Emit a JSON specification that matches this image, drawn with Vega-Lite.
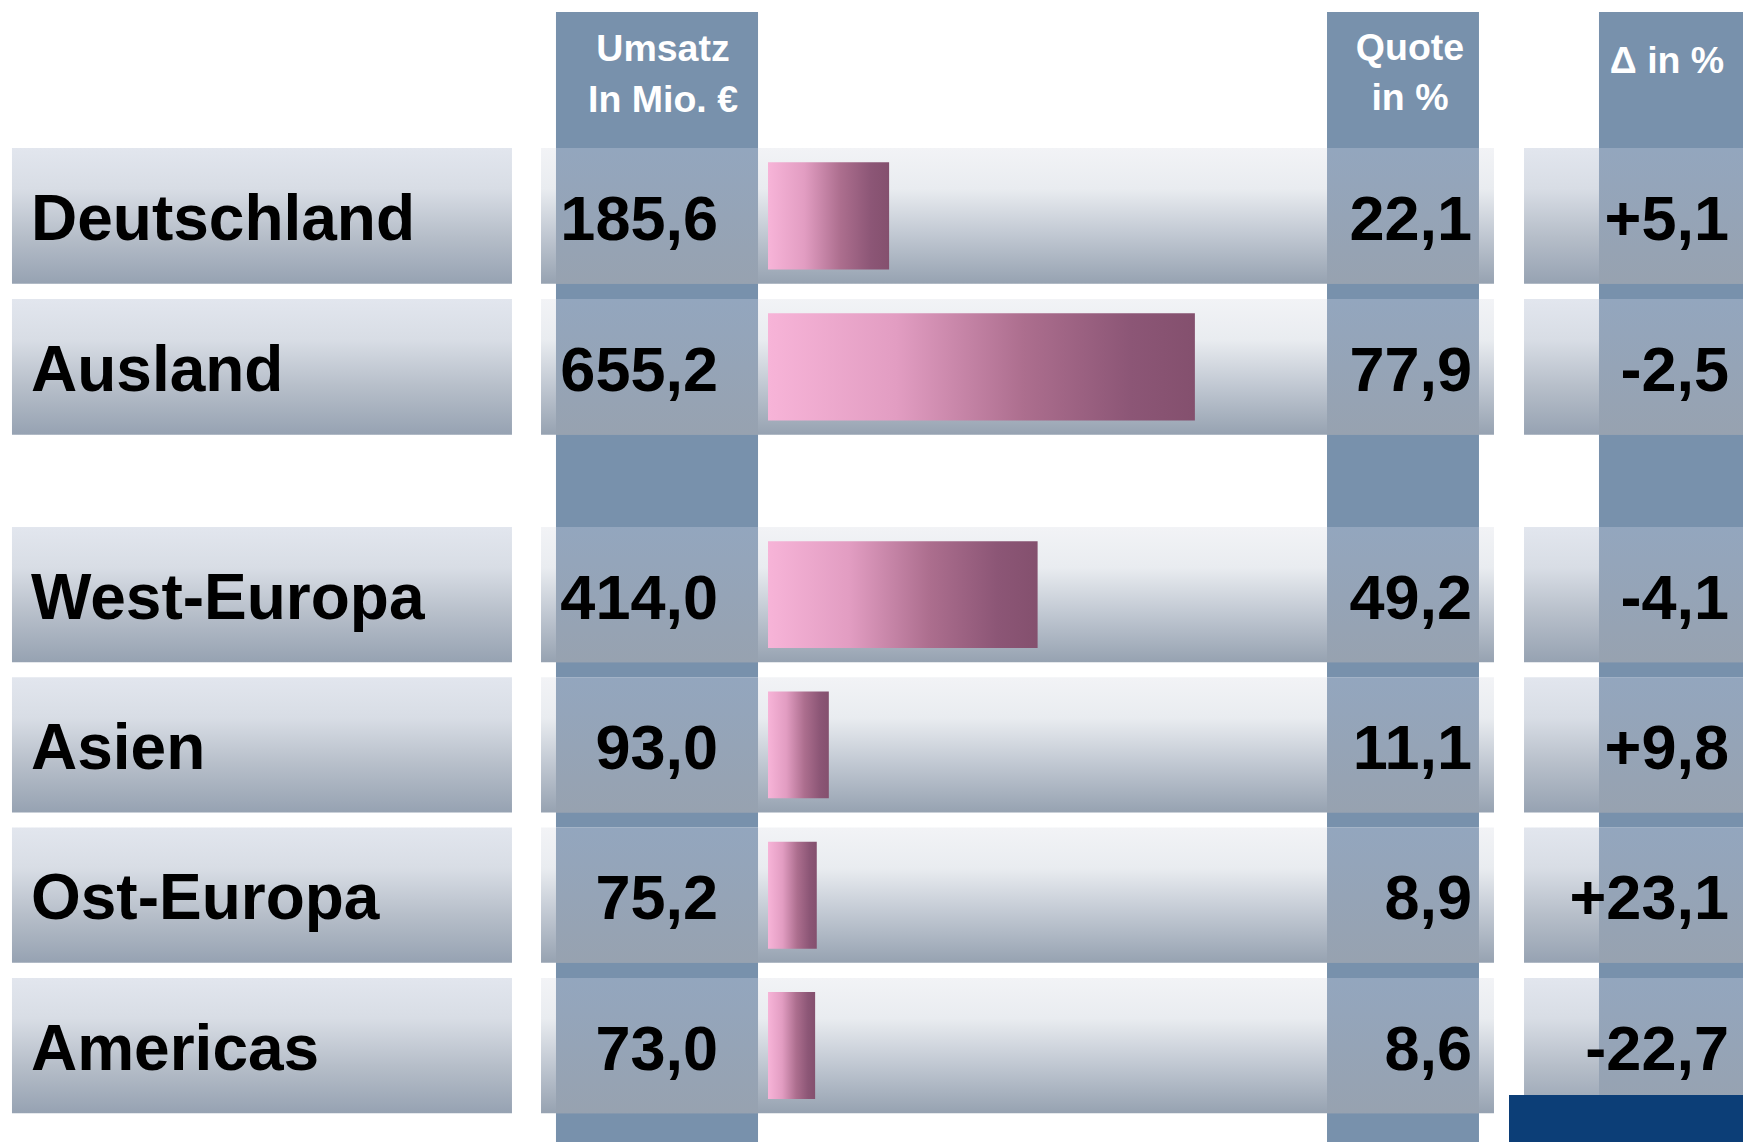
{
  "$schema": "https://vega.github.io/schema/vega-lite/v6.json",
  "background": "white",
  "padding": {"top": 12, "bottom": 0, "left": 0, "right": 0},
  "spacing": 0,
  "config": {
    "view": {"stroke": null},
    "axis": {"disable": true},
    "locale": {"number": {"decimal": ",", "thousands": ".", "grouping": [3], "currency": ["", " €"], "minus": "-"}}
  },
  "datasets": {
    "gesamt": [
      {"Region": "Deutschland", "Umsatz": 185.6, "Quote": 22.1, "Delta": 5.1},
      {"Region": "Ausland", "Umsatz": 655.2, "Quote": 77.9, "Delta": -2.5}
    ],
    "regionen": [
      {"Region": "West-Europa", "Umsatz": 414.0, "Quote": 49.2, "Delta": -4.1},
      {"Region": "Asien", "Umsatz": 93.0, "Quote": 11.1, "Delta": 9.8},
      {"Region": "Ost-Europa", "Umsatz": 75.2, "Quote": 8.9, "Delta": 23.1},
      {"Region": "Americas", "Umsatz": 73.0, "Quote": 8.6, "Delta": -22.7}
    ]
  },
  "vconcat": [
    {
      "width": 1743,
      "height": 515,
      "data": {"name": "gesamt"},
      "layer": [
        {"data": {"values": [{}]}, "mark": {"type": "rect", "color": "#7891AC"},
         "encoding": {"x": {"datum": -38.69, "type": "quantitative", "scale": {"domain": [-140.146, 177.92], "nice": false, "zero": false}}, "x2": {"datum": -1.82}}},
        {"data": {"values": [{}]}, "mark": {"type": "rect", "color": "#7891AC"},
         "encoding": {"x": {"datum": 102.01, "type": "quantitative"}, "x2": {"datum": 129.74}}},
        {"data": {"values": [{}]}, "mark": {"type": "rect", "color": "#7891AC"},
         "encoding": {"x": {"datum": 151.64, "type": "quantitative"}, "x2": {"datum": 177.92}}},
        {"mark": {"type": "rect", "color": {"gradient": "linear", "x1": 0, "y1": 0, "x2": 0, "y2": 1, "stops": [{"offset": 0, "color": "#E2E6EE"}, {"offset": 0.3, "color": "#D8DDE5"}, {"offset": 0.65, "color": "#B6BEC9"}, {"offset": 1, "color": "#96A2B2"}]}},
         "encoding": {"y": {"field": "Region", "type": "nominal", "sort": null, "scale": {"domain": ["Deutschland", "Ausland"], "paddingInner": 0.1, "paddingOuter": 0.755, "align": 0.596}}, "x": {"datum": -137.96, "type": "quantitative"}, "x2": {"datum": -46.72}}},
        {"mark": {"type": "rect", "color": {"gradient": "linear", "x1": 0, "y1": 0, "x2": 0, "y2": 1, "stops": [{"offset": 0, "color": "#F2F3F6"}, {"offset": 0.3, "color": "#E9ECF0"}, {"offset": 0.62, "color": "#C3CAD4"}, {"offset": 1, "color": "#96A2B1"}]}},
         "encoding": {"y": {"field": "Region", "type": "nominal"}, "x": {"datum": -41.42, "type": "quantitative"}, "x2": {"datum": 132.48}}},
        {"mark": {"type": "rect", "color": {"gradient": "linear", "x1": 0, "y1": 0, "x2": 0, "y2": 1, "stops": [{"offset": 0, "color": "#E2E6EE"}, {"offset": 0.3, "color": "#D8DDE5"}, {"offset": 0.65, "color": "#B6BEC9"}, {"offset": 1, "color": "#96A2B2"}]}},
         "encoding": {"y": {"field": "Region", "type": "nominal"}, "x": {"datum": 137.96, "type": "quantitative"}, "x2": {"datum": 177.92}}},
        {"mark": {"type": "rect", "color": {"gradient": "linear", "x1": 0, "y1": 0, "x2": 0, "y2": 1, "stops": [{"offset": 0, "color": "#93A6BE"}, {"offset": 1, "color": "#97A2B0"}]}},
         "encoding": {"y": {"field": "Region", "type": "nominal"}, "x": {"datum": -38.69, "type": "quantitative"}, "x2": {"datum": -1.82}}},
        {"mark": {"type": "rect", "color": {"gradient": "linear", "x1": 0, "y1": 0, "x2": 0, "y2": 1, "stops": [{"offset": 0, "color": "#93A6BE"}, {"offset": 1, "color": "#97A2B0"}]}},
         "encoding": {"y": {"field": "Region", "type": "nominal"}, "x": {"datum": 102.01, "type": "quantitative"}, "x2": {"datum": 129.74}}},
        {"mark": {"type": "rect", "color": {"gradient": "linear", "x1": 0, "y1": 0, "x2": 0, "y2": 1, "stops": [{"offset": 0, "color": "#93A6BE"}, {"offset": 1, "color": "#97A2B0"}]}},
         "encoding": {"y": {"field": "Region", "type": "nominal"}, "x": {"datum": 151.64, "type": "quantitative"}, "x2": {"datum": 177.92}}},
        {"mark": {"type": "bar", "height": {"band": 0.79}, "color": {"gradient": "linear", "x1": 0, "y1": 0, "x2": 1, "y2": 0, "stops": [{"offset": 0, "color": "#F7B4D8"}, {"offset": 0.3, "color": "#E29DC2"}, {"offset": 0.6, "color": "#AC6E8E"}, {"offset": 0.85, "color": "#8C5676"}, {"offset": 1, "color": "#84506E"}]}},
         "encoding": {"y": {"field": "Region", "type": "nominal"}, "x": {"field": "Quote", "type": "quantitative"}, "x2": {"datum": 0}}},
        {"mark": {"type": "text", "align": "left", "baseline": "alphabetic", "dy": 24, "fontSize": 64, "fontWeight": "bold", "font": "Liberation Sans", "color": "#000000"},
         "encoding": {"y": {"field": "Region", "type": "nominal"}, "x": {"datum": -134.49, "type": "quantitative"}, "text": {"field": "Region"}}},
        {"mark": {"type": "text", "align": "right", "baseline": "alphabetic", "dy": 24, "fontSize": 63, "fontWeight": "bold", "font": "Liberation Sans", "color": "#000000"},
         "encoding": {"y": {"field": "Region", "type": "nominal"}, "x": {"datum": -9.12, "type": "quantitative"}, "text": {"field": "Umsatz", "type": "quantitative", "format": ".1f"}}},
        {"mark": {"type": "text", "align": "right", "baseline": "alphabetic", "dy": 24, "fontSize": 63, "fontWeight": "bold", "font": "Liberation Sans", "color": "#000000"},
         "encoding": {"y": {"field": "Region", "type": "nominal"}, "x": {"datum": 128.47, "type": "quantitative"}, "text": {"field": "Quote", "type": "quantitative", "format": ".1f"}}},
        {"mark": {"type": "text", "align": "right", "baseline": "alphabetic", "dy": 24, "fontSize": 63, "fontWeight": "bold", "font": "Liberation Sans", "color": "#000000"},
         "encoding": {"y": {"field": "Region", "type": "nominal"}, "x": {"datum": 175.36, "type": "quantitative"}, "text": {"field": "Delta", "type": "quantitative", "format": "+.1f"}}},
        {"data": {"values": [{}]}, "mark": {"type": "text", "text": ["Umsatz", "In Mio. €"], "lineHeight": 51, "align": "center", "baseline": "alphabetic", "fontSize": 37.5, "fontWeight": "bold", "font": "Liberation Sans", "color": "#FFFFFF"},
         "encoding": {"x": {"datum": -19.16, "type": "quantitative"}, "y": {"datum": "Deutschland", "type": "nominal", "bandPosition": -0.6394}}},
        {"data": {"values": [{}]}, "mark": {"type": "text", "text": ["Quote", "in %"], "lineHeight": 49.5, "align": "center", "baseline": "alphabetic", "fontSize": 37.5, "fontWeight": "bold", "font": "Liberation Sans", "color": "#FFFFFF"},
         "encoding": {"x": {"datum": 117.15, "type": "quantitative"}, "y": {"datum": "Deutschland", "type": "nominal", "bandPosition": -0.6467}}},
        {"data": {"values": [{}]}, "mark": {"type": "text", "text": "Δ in %", "align": "center", "baseline": "alphabetic", "fontSize": 37.5, "fontWeight": "bold", "font": "Liberation Sans", "color": "#FFFFFF"},
         "encoding": {"x": {"datum": 164.05, "type": "quantitative"}, "y": {"datum": "Deutschland", "type": "nominal", "bandPosition": -0.551}}}
      ]
    },
    {
      "width": 1743,
      "height": 615,
      "data": {"name": "regionen"},
      "layer": [
        {"data": {"values": [{}]}, "mark": {"type": "rect", "color": "#7891AC"},
         "encoding": {"x": {"datum": -38.69, "type": "quantitative", "scale": {"domain": [-140.146, 177.92], "nice": false, "zero": false}}, "x2": {"datum": -1.82}}},
        {"data": {"values": [{}]}, "mark": {"type": "rect", "color": "#7891AC"},
         "encoding": {"x": {"datum": 102.01, "type": "quantitative"}, "x2": {"datum": 129.74}}},
        {"data": {"values": [{}]}, "mark": {"type": "rect", "color": "#7891AC"},
         "encoding": {"x": {"datum": 151.64, "type": "quantitative"}, "x2": {"datum": 177.92}}},
        {"mark": {"type": "rect", "color": {"gradient": "linear", "x1": 0, "y1": 0, "x2": 0, "y2": 1, "stops": [{"offset": 0, "color": "#E2E6EE"}, {"offset": 0.3, "color": "#D8DDE5"}, {"offset": 0.65, "color": "#B6BEC9"}, {"offset": 1, "color": "#96A2B2"}]}},
         "encoding": {"y": {"field": "Region", "type": "nominal", "sort": null, "scale": {"domain": ["West-Europa", "Asien", "Ost-Europa", "Americas"], "paddingInner": 0.1, "paddingOuter": 0.096, "align": 0}}, "x": {"datum": -137.96, "type": "quantitative"}, "x2": {"datum": -46.72}}},
        {"mark": {"type": "rect", "color": {"gradient": "linear", "x1": 0, "y1": 0, "x2": 0, "y2": 1, "stops": [{"offset": 0, "color": "#F2F3F6"}, {"offset": 0.3, "color": "#E9ECF0"}, {"offset": 0.62, "color": "#C3CAD4"}, {"offset": 1, "color": "#96A2B1"}]}},
         "encoding": {"y": {"field": "Region", "type": "nominal"}, "x": {"datum": -41.42, "type": "quantitative"}, "x2": {"datum": 132.48}}},
        {"mark": {"type": "rect", "color": {"gradient": "linear", "x1": 0, "y1": 0, "x2": 0, "y2": 1, "stops": [{"offset": 0, "color": "#E2E6EE"}, {"offset": 0.3, "color": "#D8DDE5"}, {"offset": 0.65, "color": "#B6BEC9"}, {"offset": 1, "color": "#96A2B2"}]}},
         "encoding": {"y": {"field": "Region", "type": "nominal"}, "x": {"datum": 137.96, "type": "quantitative"}, "x2": {"datum": 177.92}}},
        {"mark": {"type": "rect", "color": {"gradient": "linear", "x1": 0, "y1": 0, "x2": 0, "y2": 1, "stops": [{"offset": 0, "color": "#93A6BE"}, {"offset": 1, "color": "#97A2B0"}]}},
         "encoding": {"y": {"field": "Region", "type": "nominal"}, "x": {"datum": -38.69, "type": "quantitative"}, "x2": {"datum": -1.82}}},
        {"mark": {"type": "rect", "color": {"gradient": "linear", "x1": 0, "y1": 0, "x2": 0, "y2": 1, "stops": [{"offset": 0, "color": "#93A6BE"}, {"offset": 1, "color": "#97A2B0"}]}},
         "encoding": {"y": {"field": "Region", "type": "nominal"}, "x": {"datum": 102.01, "type": "quantitative"}, "x2": {"datum": 129.74}}},
        {"mark": {"type": "rect", "color": {"gradient": "linear", "x1": 0, "y1": 0, "x2": 0, "y2": 1, "stops": [{"offset": 0, "color": "#93A6BE"}, {"offset": 1, "color": "#97A2B0"}]}},
         "encoding": {"y": {"field": "Region", "type": "nominal"}, "x": {"datum": 151.64, "type": "quantitative"}, "x2": {"datum": 177.92}}},
        {"mark": {"type": "bar", "height": {"band": 0.79}, "color": {"gradient": "linear", "x1": 0, "y1": 0, "x2": 1, "y2": 0, "stops": [{"offset": 0, "color": "#F7B4D8"}, {"offset": 0.3, "color": "#E29DC2"}, {"offset": 0.6, "color": "#AC6E8E"}, {"offset": 0.85, "color": "#8C5676"}, {"offset": 1, "color": "#84506E"}]}},
         "encoding": {"y": {"field": "Region", "type": "nominal"}, "x": {"field": "Quote", "type": "quantitative"}, "x2": {"datum": 0}}},
        {"mark": {"type": "text", "align": "left", "baseline": "alphabetic", "dy": 24, "fontSize": 64, "fontWeight": "bold", "font": "Liberation Sans", "color": "#000000"},
         "encoding": {"y": {"field": "Region", "type": "nominal"}, "x": {"datum": -134.49, "type": "quantitative"}, "text": {"field": "Region"}}},
        {"mark": {"type": "text", "align": "right", "baseline": "alphabetic", "dy": 24, "fontSize": 63, "fontWeight": "bold", "font": "Liberation Sans", "color": "#000000"},
         "encoding": {"y": {"field": "Region", "type": "nominal"}, "x": {"datum": -9.12, "type": "quantitative"}, "text": {"field": "Umsatz", "type": "quantitative", "format": ".1f"}}},
        {"mark": {"type": "text", "align": "right", "baseline": "alphabetic", "dy": 24, "fontSize": 63, "fontWeight": "bold", "font": "Liberation Sans", "color": "#000000"},
         "encoding": {"y": {"field": "Region", "type": "nominal"}, "x": {"datum": 128.47, "type": "quantitative"}, "text": {"field": "Quote", "type": "quantitative", "format": ".1f"}}},
        {"mark": {"type": "text", "align": "right", "baseline": "alphabetic", "dy": 24, "fontSize": 63, "fontWeight": "bold", "font": "Liberation Sans", "color": "#000000"},
         "encoding": {"y": {"field": "Region", "type": "nominal"}, "x": {"datum": 175.36, "type": "quantitative"}, "text": {"field": "Delta", "type": "quantitative", "format": "+.1f"}}},
        {"data": {"values": [{}]}, "mark": {"type": "rect", "color": "#0C3E77"},
         "encoding": {"x": {"datum": 135.22, "type": "quantitative"}, "x2": {"datum": 177.92}, "y": {"datum": "Americas", "type": "nominal", "bandPosition": 0.866}, "y2": {"datum": "Americas", "bandPosition": 1.213}}}
      ]
    }
  ]
}
